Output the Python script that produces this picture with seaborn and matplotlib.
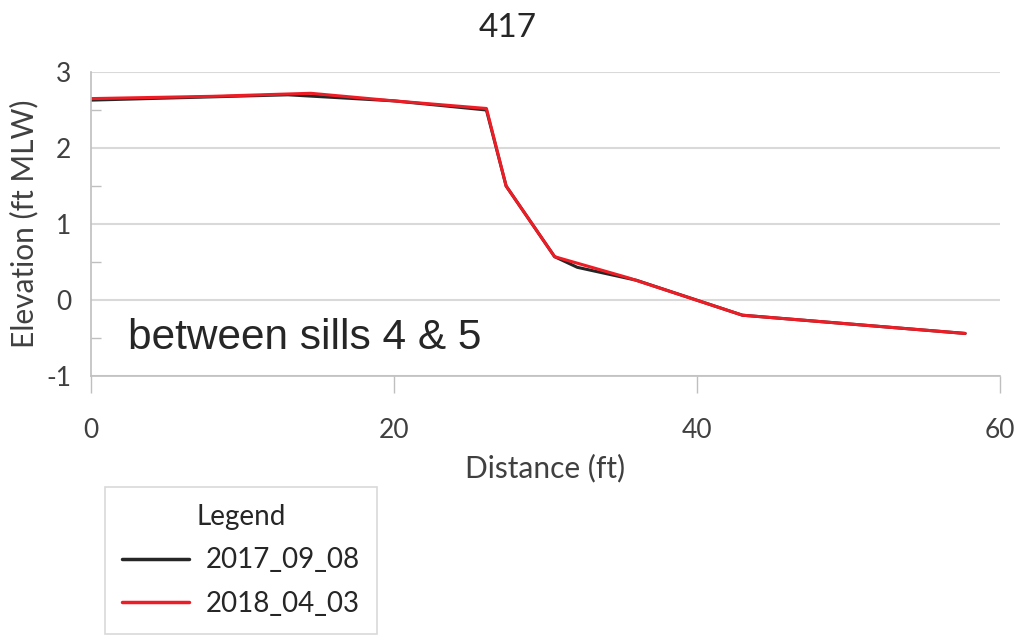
import numpy as np
import pandas as pd
import matplotlib
matplotlib.use("Agg")
import matplotlib.pyplot as plt
import seaborn as sns
from matplotlib.lines import Line2D

# Data
dist_2017 = [0, 13.0, 20.0, 26.1, 27.4, 30.6, 32.1, 36.0, 43.0, 57.7]
elev_2017 = [2.63, 2.70, 2.62, 2.50, 1.50, 0.57, 0.43, 0.26, -0.20, -0.44]
dist_2018 = [0, 8.0, 14.5, 20.0, 26.1, 27.4, 30.6, 35.5, 43.0, 57.7]
elev_2018 = [2.65, 2.68, 2.72, 2.62, 2.52, 1.50, 0.57, 0.29, -0.20, -0.44]
series_names = ["2017_09_08", "2018_04_03"]
series_colors = ["#262626", "#ee1c25"]

x_ticks = [0, 20, 40, 60]
y_ticks = [-1, 0, 1, 2, 3]

df = pd.concat([
    pd.DataFrame({"Distance": dist_2017, "Elevation": elev_2017, "Survey": series_names[0]}),
    pd.DataFrame({"Distance": dist_2018, "Elevation": elev_2018, "Survey": series_names[1]}),
], ignore_index=True)

sns.set_theme(style="white")
plt.rcParams["font.family"] = ["Lato", "DejaVu Sans"]
plt.rcParams["axes.unicode_minus"] = False

fig = plt.figure(figsize=(10.17, 6.37), dpi=100)
ax = fig.add_axes([91/1017, 1-376/637, (1000-91)/1017, (376-72)/637])

sns.lineplot(data=df, x="Distance", y="Elevation", hue="Survey", sort=False,
             palette=dict(zip(series_names, series_colors)), linewidth=2.2,
             ax=ax, legend=False, estimator=None)

ax.set_xlim(0, 60)
ax.set_ylim(-1, 3)
ax.set_xticks(x_ticks)
ax.set_yticks(y_ticks)
ax.set_yticks([-0.5, 0.5, 1.5, 2.5], minor=True)
ax.tick_params(axis="y", which="minor", direction="in", length=7, width=1, color="#bfbfbf", left=True)
ax.tick_params(axis="y", which="major", length=0, labelsize=19, colors="#404040", pad=14)
ax.tick_params(axis="x", which="major", direction="out", length=12, width=1, color="#bfbfbf",
               bottom=True, labelsize=19, labelcolor="#404040", pad=18)
ax.grid(axis="y", which="major", color="#d9d9d9", linewidth=1.5)
ax.set_axisbelow(True)
for s in ["top", "right"]:
    ax.spines[s].set_visible(False)
for s in ["left", "bottom"]:
    ax.spines[s].set_color("#bfbfbf")
    ax.spines[s].set_linewidth(1.2)

ax.set_xlabel("Distance (ft)", fontsize=21.5, color="#404040", labelpad=8)
ax.set_ylabel("Elevation (ft MLW)", fontsize=21.5, color="#404040", labelpad=6)
fig.text(508/1017, 1-28/637, "417", ha="center", va="center", fontsize=24, color="#262626")

fig.text(128/1017, 1-338/637, "between sills 4 & 5", ha="left", va="center",
         fontsize=30.5, color="#262626", family=["Liberation Sans", "DejaVu Sans"])

handles = [Line2D([], [], color=c, linewidth=2.5) for c in series_colors]
leg = fig.legend(handles, series_names, title="Legend", loc="upper left",
                 bbox_to_anchor=(105/1017, 1-487/637), frameon=True, fancybox=False,
                 fontsize=20, title_fontsize=20, handlelength=2.4, handletextpad=0.6,
                 borderpad=0.62, labelspacing=0.62, borderaxespad=0)
leg.get_frame().set_edgecolor("#d0d0d0")
leg.get_frame().set_linewidth(1.2)
for t in leg.get_texts():
    t.set_color("#262626")
leg.get_title().set_color("#262626")

fig.savefig("out.png", dpi=100)
